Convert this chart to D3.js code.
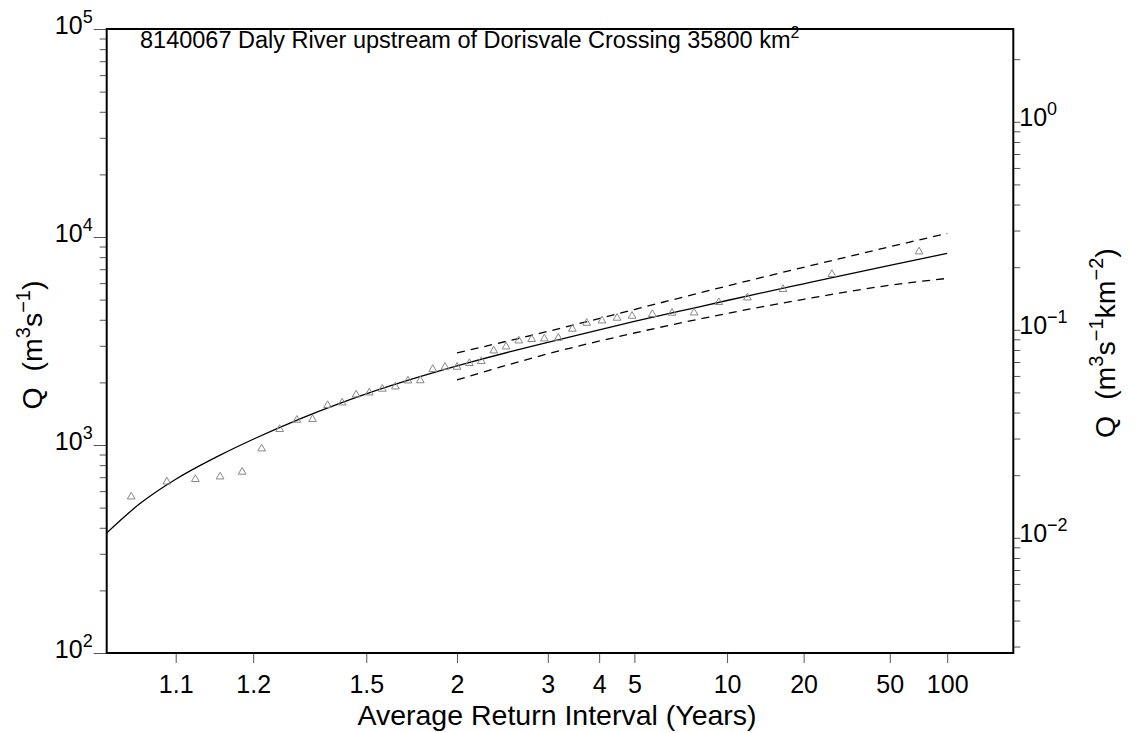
<!DOCTYPE html>
<html>
<head>
<meta charset="utf-8">
<script src="https://cdn.jsdelivr.net/npm/d3@7"></script>
<style>
  body { margin: 0; background: #fff; }
  svg text { font-family: "Liberation Sans", Arial, Helvetica, sans-serif; fill: #000; }
</style>
</head>
<body>
<svg id="chart" width="1135" height="733"></svg>
<script>
// ---- data ----------------------------------------------------------------
const stationLabel = "8140067 Daly River upstream of Dorisvale Crossing 35800 km";
const catchmentArea = 35800; // km^2

const ariTicks = [1.1, 1.2, 1.5, 2, 3, 4, 5, 10, 20, 50, 100];
const qMajorTicks = [1e2, 1e3, 1e4, 1e5];
const qsMajorTicks = [1e-2, 1e-1, 1e0];

// ranked annual maxima: average return interval (years) and peak flow (m3/s)
const obsAri = [1.065, 1.092, 1.120, 1.150, 1.182, 1.215, 1.250, 1.288, 1.327, 1.369,
                1.414, 1.462, 1.512, 1.566, 1.626, 1.689, 1.757, 1.832, 1.913, 2.000,
                2.098, 2.202, 2.321, 2.451, 2.599, 2.766, 2.947, 3.171, 3.424, 3.716,
                4.070, 4.468, 4.924, 5.650, 6.502, 7.675, 9.337, 11.89, 16.42, 26.6, 70.6];
const obsQ   = [564, 666, 684, 704, 742, 960, 1190, 1319, 1329, 1552,
                1597, 1745, 1784, 1859, 1907, 2038, 2042, 2314, 2371, 2371,
                2471, 2526, 2841, 2969, 3173, 3223, 3244, 3269, 3612, 3859,
                3959, 4080, 4170, 4250, 4312, 4325, 4853, 5108, 5606, 6617, 8502];

// fitted flood frequency curve
const fitAri = [1.05, 1.07, 1.1, 1.15, 1.2, 1.3, 1.4, 1.5, 1.75, 2, 2.5, 3, 4, 5, 7, 10, 20, 50, 100];
const fitQ   = [373, 517, 684, 894, 1066, 1348, 1573, 1761, 2123, 2400, 2812, 3114, 3576, 3926,
                4423, 4951, 5957, 7311, 8343];

// confidence limits
const ciAri   = [2, 3, 5, 10, 20, 50, 100];
const ciUpper = [2773, 3517, 4481, 5813, 7150, 8973, 10406];
const ciLower = [2056, 2742, 3455, 4288, 5018, 5859, 6324];

// ---- helpers -------------------------------------------------------------
// inverse of the standard normal CDF (Acklam's rational approximation)
function qnorm(p) {
  const a = [-3.969683028665376e+01, 2.209460984245205e+02, -2.759285104469687e+02,
             1.383577518672690e+02, -3.066479806614716e+01, 2.506628277459239e+00];
  const b = [-5.447609879822406e+01, 1.615858368580409e+02, -1.556989798598866e+02,
             6.680131188771972e+01, -1.328068155288572e+01];
  const c = [-7.784894002430293e-03, -3.223964580411365e-01, -2.400758277161838e+00,
             -2.549732539343734e+00, 4.374664141464968e+00, 2.938163982698783e+00];
  const d = [7.784695709041462e-03, 3.224671290700398e-01, 2.445134137142996e+00,
             3.754408661907416e+00];
  const pl = 0.02425;
  let q, r;
  if (p < pl) {
    q = Math.sqrt(-2 * Math.log(p));
    return (((((c[0]*q+c[1])*q+c[2])*q+c[3])*q+c[4])*q+c[5]) /
           ((((d[0]*q+d[1])*q+d[2])*q+d[3])*q+1);
  } else if (p <= 1 - pl) {
    q = p - 0.5; r = q * q;
    return (((((a[0]*r+a[1])*r+a[2])*r+a[3])*r+a[4])*r+a[5])*q /
           (((((b[0]*r+b[1])*r+b[2])*r+b[3])*r+b[4])*r+1);
  } else {
    q = Math.sqrt(-2 * Math.log(1 - p));
    return -(((((c[0]*q+c[1])*q+c[2])*q+c[3])*q+c[4])*q+c[5]) /
            ((((d[0]*q+d[1])*q+d[2])*q+d[3])*q+1);
  }
}
// normal reduced variate of an average return interval
const zOf = ari => qnorm(1 - 1 / ari);

// ---- layout --------------------------------------------------------------
const pL = 106.7, pR = 1013.3, pT = 29, pB = 653;
const svg = d3.select("#chart");

const xz = d3.scaleLinear().domain([-1.6626, 2.640]).range([pL, pR]);
const X = ari => xz(zOf(ari));
const y = d3.scaleLog().domain([1e2, 1e5]).range([pB, pT]);
const y2 = d3.scaleLog().domain([1e2 / catchmentArea, 1e5 / catchmentArea]).range([pB, pT]);

function minorTicks(lo, hi) {
  const out = [];
  for (let e = Math.floor(Math.log10(lo)); e <= Math.ceil(Math.log10(hi)); e++) {
    for (let m = 2; m <= 9; m++) {
      const v = m * Math.pow(10, e);
      if (v >= lo && v <= hi) out.push(v);
    }
  }
  return out;
}

const tickColor = "#555";

// ---- axes ----------------------------------------------------------------
// x axis (normal probability scale labelled in ARI)
const gx = svg.append("g").attr("transform", `translate(0,${pB})`)
  .call(d3.axisBottom(xz).tickValues(ariTicks.map(zOf)).tickSize(10).tickSizeOuter(0)
        .tickFormat((d, i) => ariTicks[i]));
gx.select(".domain").remove();
gx.selectAll(".tick line").attr("stroke", tickColor);
gx.selectAll(".tick text").attr("font-size", 25).attr("dy", 0).attr("y", 40);

svg.append("text").attr("x", 557).attr("y", 725)
  .attr("text-anchor", "middle").attr("font-size", 28.5)
  .text("Average Return Interval (Years)");

// left axis: Q
const gyMinor = svg.append("g").attr("transform", `translate(${pL},0)`)
  .call(d3.axisLeft(y).tickValues(minorTicks(1e2, 1e5)).tickSize(7).tickFormat(""));
const gyMajor = svg.append("g").attr("transform", `translate(${pL},0)`)
  .call(d3.axisLeft(y).tickValues(qMajorTicks).tickSize(13).tickFormat(""));
[gyMinor, gyMajor].forEach(g => {
  g.select(".domain").remove();
  g.selectAll(".tick line").attr("stroke", tickColor);
});
gyMajor.selectAll(".tick").append("text")
  .attr("x", -14).attr("y", 4).attr("text-anchor", "end").attr("font-size", 25)
  .each(function (d) {
    const t = d3.select(this);
    t.append("tspan").text("10");
    t.append("tspan").attr("dy", -11).attr("font-size", 18).text(Math.round(Math.log10(d)));
  });

// right axis: specific discharge
const gy2Minor = svg.append("g").attr("transform", `translate(${pR},0)`)
  .call(d3.axisRight(y2).tickValues(minorTicks(1e2 / catchmentArea, 1e5 / catchmentArea))
        .tickSize(7).tickFormat(""));
const gy2Major = svg.append("g").attr("transform", `translate(${pR},0)`)
  .call(d3.axisRight(y2).tickValues(qsMajorTicks).tickSize(7).tickFormat(""));
[gy2Minor, gy2Major].forEach(g => {
  g.select(".domain").remove();
  g.selectAll(".tick line").attr("stroke", tickColor);
});
gy2Major.selectAll(".tick").append("text")
  .attr("x", 6).attr("y", 4).attr("text-anchor", "start").attr("font-size", 25)
  .each(function (d) {
    const t = d3.select(this);
    const e = Math.round(Math.log10(d));
    t.append("tspan").text("10");
    t.append("tspan").attr("dy", -11).attr("font-size", 18).text(e < 0 ? "\u2212" + (-e) : e);
  });

// axis titles
function yTitle(x, cy, parts) {
  const t = svg.append("text")
    .attr("transform", `translate(${x},${cy}) rotate(-90)`)
    .attr("text-anchor", "middle").attr("font-size", 28.5);
  parts.forEach(([txt, sup]) => {
    const s = t.append("tspan").text(txt);
    if (sup === 1) s.attr("font-size", 20).attr("dy", -12);
    if (sup === -1) s.attr("dy", 12);
  });
}
yTitle(42, 345, [["Q\u00a0\u00a0(m"], ["3", 1], ["s", -1], ["\u22121", 1], [")", -1]]);
yTitle(1115, 343, [["Q\u00a0\u00a0(m"], ["3", 1], ["s", -1], ["\u22121", 1], ["km", -1], ["\u22122", 1], [")", -1]]);

// ---- plot content --------------------------------------------------------
svg.append("clipPath").attr("id", "plotClip")
  .append("rect").attr("x", pL).attr("y", pT).attr("width", pR - pL).attr("height", pB - pT);
const plot = svg.append("g").attr("clip-path", "url(#plotClip)");

const line = d3.line().x(d => X(d[0])).y(d => y(d[1])).curve(d3.curveMonotoneX);

plot.append("path").datum(d3.zip(fitAri, fitQ))
  .attr("d", line).attr("fill", "none").attr("stroke", "#000").attr("stroke-width", 1.3);
[ciUpper, ciLower].forEach(ci => {
  plot.append("path").datum(d3.zip(ciAri, ci))
    .attr("d", line).attr("fill", "none").attr("stroke", "#000")
    .attr("stroke-width", 1.3).attr("stroke-dasharray", "8,6");
});

const tri = d3.symbol().type(d3.symbolTriangle).size(26);
plot.selectAll("path.obs").data(d3.zip(obsAri, obsQ)).join("path")
  .attr("class", "obs")
  .attr("transform", d => `translate(${X(d[0])},${y(d[1])})`)
  .attr("d", tri).attr("fill", "none").attr("stroke", "#888").attr("stroke-width", 1);

// station label
const lbl = svg.append("text").attr("x", 140).attr("y", 48).attr("font-size", 23.5);
lbl.append("tspan").text(stationLabel);
lbl.append("tspan").attr("dy", -10).attr("font-size", 16).text("2");

// frame
svg.append("rect").attr("x", pL).attr("y", pT).attr("width", pR - pL).attr("height", pB - pT)
  .attr("fill", "none").attr("stroke", "#000").attr("stroke-width", 2);
</script>
</body>
</html>
